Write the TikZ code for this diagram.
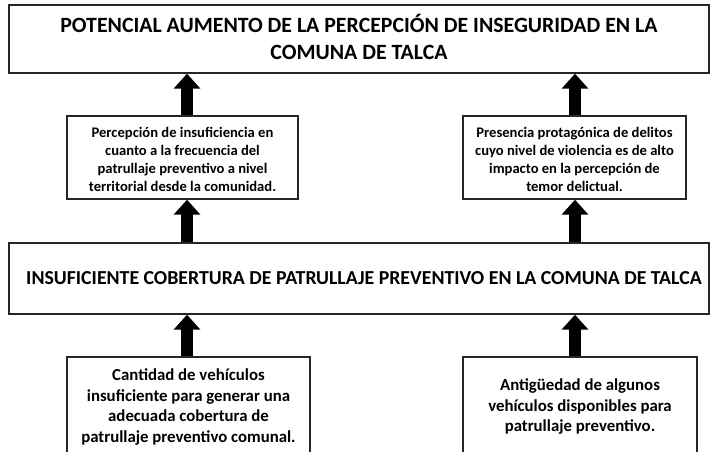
\documentclass[tikz,border=0pt]{standalone}
\usepackage{fontspec}
\setmainfont{Carlito}
\usetikzlibrary{arrows.meta}
\begin{document}
\begin{tikzpicture}[x=1pt,y=-1pt,
  box/.style={draw=black!85, line width=1.4pt, fill=white, rectangle, inner sep=0pt, align=center},
  boxtext/.style={align=center, inner sep=0pt},
  bigtitle/.style={font=\bfseries\fontsize{21.8}{27}\selectfont},
  midtitle/.style={font=\bfseries\fontsize{19.8}{24}\selectfont},
  smalltxt/.style={font=\bfseries\fontsize{14.6}{18}\selectfont},
  lowtxt/.style={font=\bfseries\fontsize{16.8}{20.5}\selectfont},
  bigarrow/.style={line width=12pt, -{Triangle[width=26pt,length=15pt]}}]
\useasboundingbox (0,0) rectangle (710,452);
\clip (0,0) rectangle (710,452);
\fill[white] (0,0) rectangle (710,452);
% boxes
\node[box, minimum width=700pt, minimum height=68pt,
  label={[boxtext, bigtitle, yshift=2.5pt]center:POTENCIAL AUMENTO DE LA PERCEPCIÓN DE INSEGURIDAD EN LA\\COMUNA DE TALCA}] (top) at (359,39) {};
\node[box, minimum width=231pt, minimum height=83pt,
  label={[boxtext, smalltxt, yshift=-1.8pt]center:Percepción de insuficiencia en\\cuanto a la frecuencia del\\patrullaje preventivo a nivel\\territorial desde la comunidad.}] (l1) at (182.5,157.5) {};
\node[box, minimum width=223pt, minimum height=83pt,
  label={[boxtext, smalltxt, yshift=-1.8pt]center:Presencia protagónica de delitos\\cuyo nivel de violencia es de alto\\impacto en la percepción de\\temor delictual.}] (r1) at (574.5,157.5) {};
\node[box, minimum width=700pt, minimum height=71pt,
  label={[boxtext, midtitle, xshift=5pt]center:INSUFICIENTE COBERTURA DE PATRULLAJE PREVENTIVO EN LA COMUNA DE TALCA}] (mid) at (359,278.5) {};
\node[box, lowtxt, minimum width=243pt, minimum height=100pt] (l2) at (188.5,407)
  {Cantidad de vehículos\\insuficiente para generar una\\adecuada cobertura de\\patrullaje preventivo comunal.};
\node[box, lowtxt, minimum width=234pt, minimum height=100pt] (r2) at (580,407)
  {Antigüedad de algunos\\vehículos disponibles para\\patrullaje preventivo.};
% arrow axes
\coordinate (axL) at (187,0);
\coordinate (axR) at (575,0);
% arrows
\draw[bigarrow] (l1.north -| axL) -- (top.south -| axL);
\draw[bigarrow] (r1.north -| axR) -- (top.south -| axR);
\draw[bigarrow] (mid.north -| axL) -- (l1.south -| axL);
\draw[bigarrow] (mid.north -| axR) -- (r1.south -| axR);
\draw[bigarrow] (l2.north -| axL) -- (mid.south -| axL);
\draw[bigarrow] (r2.north -| axR) -- (mid.south -| axR);
\end{tikzpicture}
\end{document}
